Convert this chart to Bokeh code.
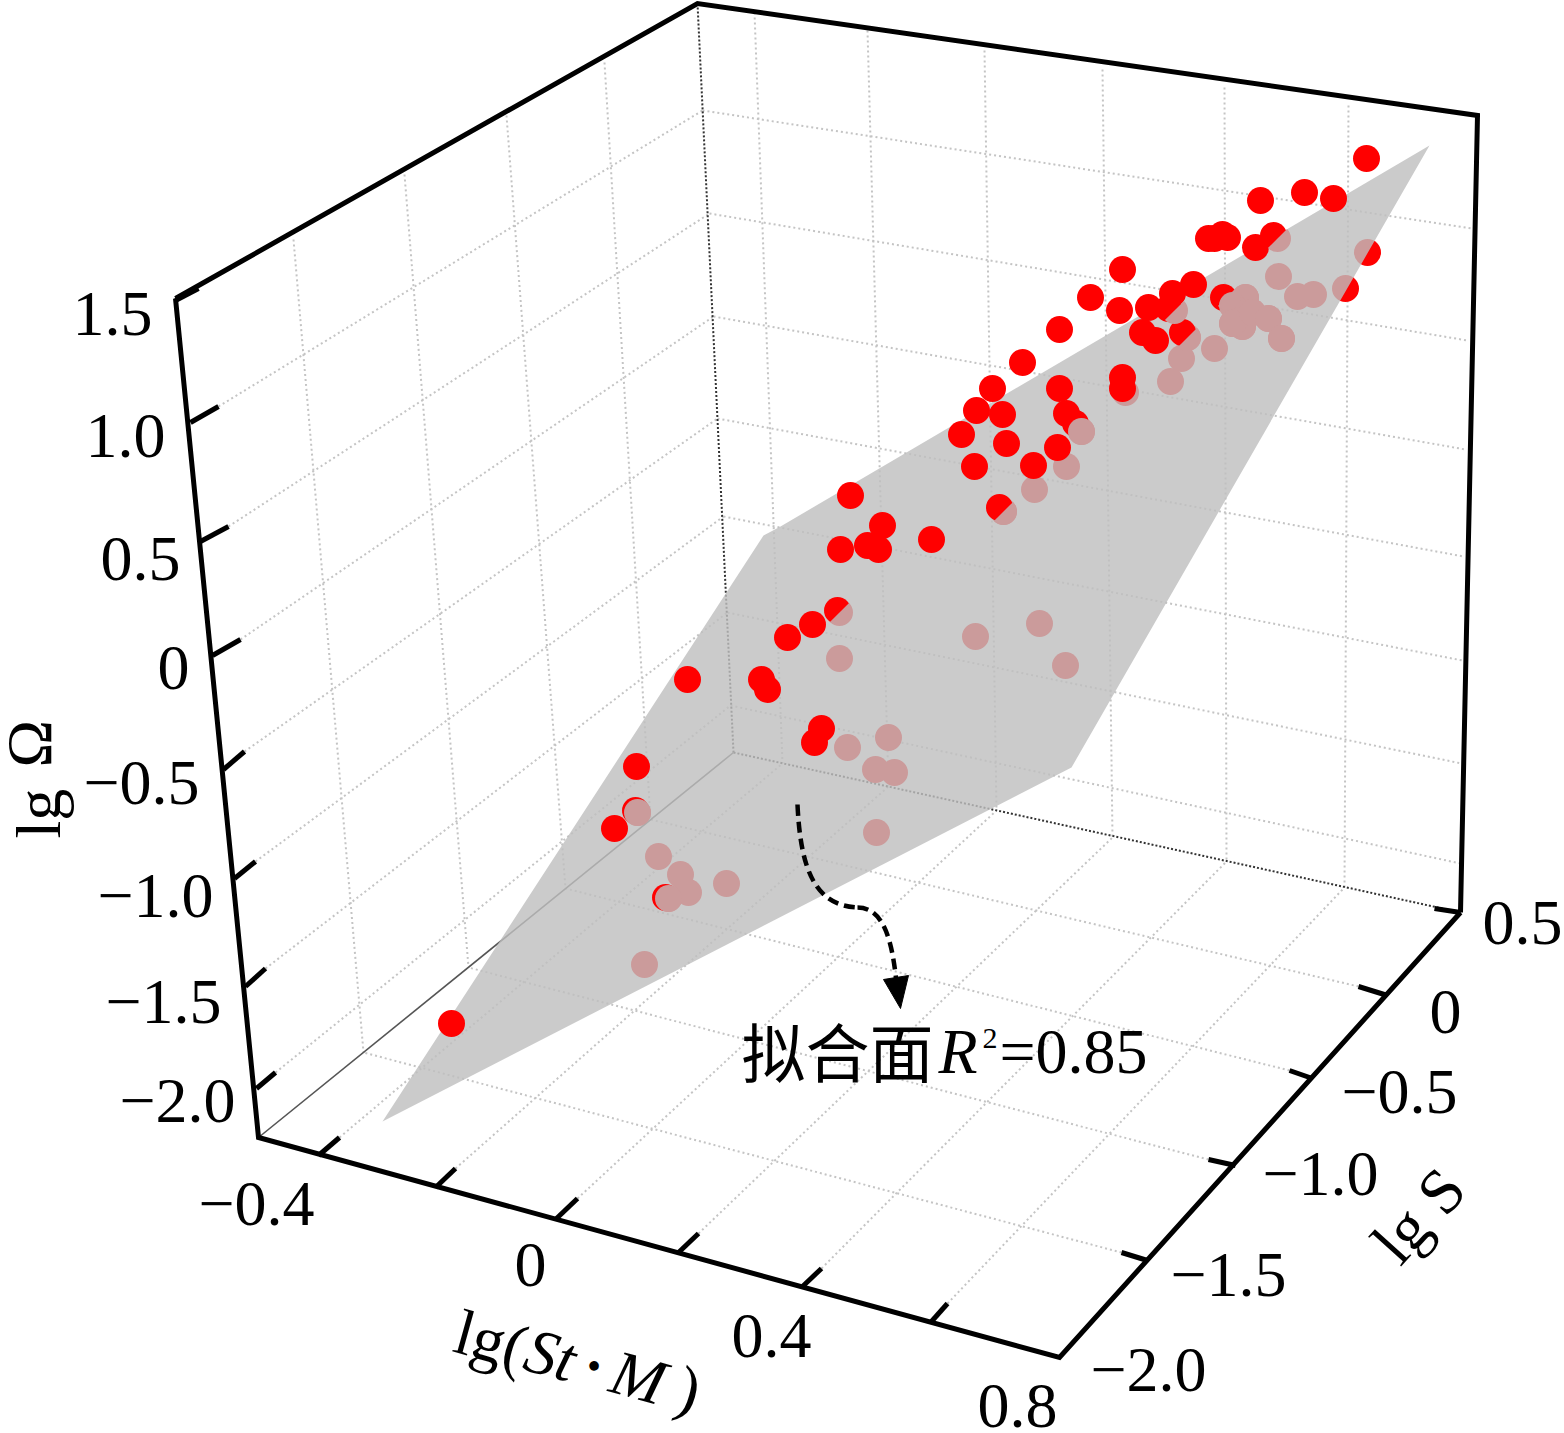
import math
from bokeh.plotting import figure
from bokeh.models import Range1d
from bokeh.core.properties import value
from bokeh.embed import file_html
from bokeh.resources import INLINE

z_labels = ["1.5", "1.0", "0.5", "0", "\u22120.5", "\u22121.0", "\u22121.5", "\u22122.0"]
z_label_right = [152, 165, 180, 189, 199, 213, 221, 235]
z_label_base = [337, 459, 582, 691, 806, 919, 1025, 1124]
x_labels = ["\u22120.4", "0", "0.4", "0.8"]
x_label_right = [314, 546, 811, 1057]
x_label_base = [1227, 1288, 1359, 1429]
s_labels = ["0.5", "0", "\u22120.5", "\u22121.0", "\u22121.5", "\u22122.0"]
s_label_right = [1562, 1461, 1457, 1378, 1286, 1206]
s_label_base = [946, 1035, 1115, 1197, 1298, 1393]

# box corners
corner_x = dict(A=258, B=1059, C=1460, D=733, At=175, Dt=697, Ct=1477)
corner_y = dict(A=1137, B=1357, C=912, D=752, At=298, Dt=3, Ct=115)

# vertical-axis ticks (base on the front edge, end into the wall)
zt_x0 = [175, 190, 200, 212, 223, 234, 245, 256]
zt_y0 = [300, 422, 541, 655, 769, 878, 986, 1088]
zt_x1 = [198, 218, 228, 240, 244, 255, 265, 275]
zt_y1 = [288, 406, 526, 639, 751, 861, 968, 1072]
# same levels on the back edge and on the right edge
zb_x = [697, 702, 709, 713, 717, 723, 727, 730]
zb_y = [3, 110, 213, 316, 418, 516, 612, 705]
zr_x = [1477, 1471, 1467, 1465, 1463, 1462, 1461, 1460]
zr_y = [115, 228, 340, 449, 556, 660, 763, 863]

# front-axis ticks
xt_x0 = [318, 435, 556, 678, 802, 931]
xt_y0 = [1155, 1187, 1218, 1252, 1286, 1321]
xt_x1 = [339, 455, 577, 698, 821, 947]
xt_y1 = [1137, 1168, 1198, 1233, 1268, 1303]
# same ticks along the back floor edge and the top edge
xf_x = [782, 888, 996, 1112, 1226, 1344]
xf_y = [763, 786, 810, 837, 861, 887]
xu_x = [754, 867, 984, 1102, 1224, 1348]
xu_y = [12, 30, 50, 69, 87, 105]

# side-axis ticks
st_x0 = [1147, 1235, 1312, 1387]
st_y0 = [1260, 1165, 1078, 995]
st_x1 = [1121, 1208, 1289, 1358]
st_y1 = [1252, 1159, 1070, 986]
# same ticks on the left wall, floor edge and top edge
sf_x = [363, 468, 565, 650]
sf_y = [1052, 967, 888, 819]
su_x = [293, 404, 506, 604]
su_y = [239, 174, 115, 62]

# fitted surface
surface_x = [382, 1071, 1429, 780, 763]
surface_y = [1121, 767, 145, 526, 535]

# points in front of the surface
red_x = [1366, 1304, 1333, 1260, 1273, 1208, 1214, 1222, 1227, 1255, 1122, 1090, 1119, 1148, 1172,
         1193, 1223, 1059, 1142, 1155, 1182, 1022, 1059, 992, 1122, 1122, 976, 1002, 1066, 1075,
         961, 1006, 1057, 974, 1033, 999, 850, 882, 840, 867, 878, 931, 837, 812, 787, 687, 761,
         767, 821, 814, 636, 614, 635, 665, 451, 1168]
red_y = [158, 192, 198, 200, 235, 238, 238, 234, 237, 247, 269, 297, 310, 307, 293,
         284, 297, 329, 332, 340, 332, 362, 388, 388, 377, 388, 410, 414, 413, 423,
         434, 443, 447, 466, 465, 507, 495, 525, 549, 545, 549, 539, 610, 624, 637, 679, 679,
         689, 728, 742, 766, 828, 810, 897, 1023, 308]
# points behind the surface, seen through it
under_x = [1278, 1297, 1313, 1345, 1367, 1214, 1181, 1170, 975, 1039, 1065, 839, 847, 888, 875,
           894, 876, 658, 680, 688, 726, 644, 1066, 1034, 1125, 1187, 1003]
under_y = [276, 296, 294, 288, 252, 348, 358, 381, 636, 623, 665, 658, 747, 737, 769,
           772, 832, 856, 874, 892, 883, 964, 466, 489, 392, 337, 511]
# behind-surface points that the picture shows over a red point
over_x = [1081, 637, 668, 1245, 1232, 1242, 1232, 1252, 1268, 1281]
over_y = [431, 812, 898, 297, 305, 326, 323, 312, 318, 338]
# points pierced by the surface: lower-right half shows behind it
cut_x = [1277, 1187, 1003, 839, 1174, 1227]
cut_y = [238, 337, 511, 612, 310, 296]

# annotation arrow (two curve pieces and a head)
arrow_x0 = [797, 857]
arrow_y0 = [804, 907]
arrow_x1 = [857, 896]
arrow_y1 = [907, 982]
arrow_c0x = [800, 885]
arrow_c0y = [870, 907]
arrow_c1x = [815, 892]
arrow_c1y = [905, 945]
head_x = [900, 883, 908]
head_y = [1008, 979, 975]

SERIF = value("Liberation Serif")
FS = 64
PINK = "#cb9b9b"
BASE = 0.36  # distance the svg text baseline sits below the anchor, in em

p = figure(width=1564, height=1433, output_backend="svg", toolbar_location=None,
           x_range=Range1d(0, 1564), y_range=Range1d(1433, 0),
           min_border=0, background_fill_color="white", border_fill_color="white")
p.axis.visible = False
p.grid.visible = False
p.outline_line_color = None

GRID = dict(line_color="#c4c4c4", line_width=2, line_dash="2 3")

# wall and floor grids
p.segment(zb_x[1:], zb_y[1:], zr_x[1:], zr_y[1:], **GRID)
p.segment(xu_x, xu_y, xf_x, xf_y, **GRID)
p.segment(zt_x1[1:], zt_y1[1:], zb_x[1:], zb_y[1:], **GRID)
p.segment(su_x, su_y, sf_x, sf_y, **GRID)
p.segment(xt_x1, xt_y1, xf_x, xf_y, **GRID)
p.segment(st_x1, st_y1, sf_x, sf_y, **GRID)

# thin inner edges
c = corner_x
d = corner_y
p.line([c["Dt"], c["D"]], [d["Dt"], d["D"]], line_color="#333333", line_width=2, line_dash="2 2")
p.line([c["D"], c["C"]], [d["D"], d["C"]], line_color="#333333", line_width=2, line_dash="2 2")
p.line([c["A"], c["D"]], [d["A"], d["D"]], line_color="#555555", line_width=1.6)

# points behind, surface, points in front
p.scatter(under_x + over_x, under_y + over_y, size=27, color="#ff0000", line_color=None)
p.patch(surface_x, surface_y, fill_color="#bfbfbf", fill_alpha=0.81, line_color=None)
p.scatter(red_x, red_y, size=27, color="#ff0000", line_color=None)
p.scatter(over_x, over_y, size=27, color=PINK, line_color=None)
p.wedge(cut_x, cut_y, radius=13.5, radius_units="screen",
        start_angle=math.radians(-135), end_angle=math.radians(45),
        fill_color=PINK, line_color=None)

# heavy box edges
p.line([c["At"], c["A"], c["B"], c["C"]], [d["At"], d["A"], d["B"], d["C"]],
       line_color="black", line_width=5, line_join="miter")
p.line([c["At"], c["Dt"], c["Ct"], c["C"]], [d["At"], d["Dt"], d["Ct"], d["C"]],
       line_color="black", line_width=5, line_join="miter")

# ticks
TICK = dict(line_color="black", line_width=5)
p.segment(zt_x0, zt_y0, zt_x1, zt_y1, **TICK)
p.segment(xt_x0, xt_y0, xt_x1, xt_y1, **TICK)
p.segment(st_x0, st_y0, st_x1, st_y1, **TICK)
p.segment([c["C"]], [d["C"]], [1434], [908], **TICK)

# tick labels
TXT = dict(text_font=SERIF, text_font_size=f"{FS}px", text_color="black",
           text_align="right", text_baseline="alphabetic", y_offset=-BASE * FS)
p.text(z_label_right, z_label_base, text=z_labels, **TXT)
p.text(x_label_right, x_label_base, text=x_labels, **TXT)
p.text(s_label_right, s_label_base, text=s_labels, **TXT)


def label(x, y, s, angle_deg=0.0, italic=False, size=FS, font=SERIF):
    a = math.radians(angle_deg)
    p.text([x], [y], text=[s], angle=a, text_font=font,
           text_font_size=f"{size}px", text_font_style="italic" if italic else "normal",
           text_color="black", text_align="left", text_baseline="alphabetic",
           x_offset=-BASE * size * math.sin(a), y_offset=-BASE * size * math.cos(a))


# axis titles
label(61, 838, "lg", 90)
label(52, 767, "\u03a9", 90)
label(450, 1352, "lg(", -15.5)
label(520, 1370, "St", -15.5, italic=True)
label(583, 1377, "\u2022", -15.5, size=40)
label(606, 1392, "M", -15.5, italic=True)
label(672, 1408, ")", -15.5)
label(1401, 1268, "lg", 48)
label(1446, 1219, "S", 48)

# annotation
p.bezier(arrow_x0, arrow_y0, arrow_x1, arrow_y1, arrow_c0x, arrow_c0y, arrow_c1x, arrow_c1y,
         line_color="black", line_width=4.5, line_dash="11 6")
p.patch(head_x, head_y, fill_color="black", line_color="black", line_width=1)
label(741, 1072, "\u62df\u5408\u9762", size=64, font=value("Noto Sans CJK SC"))
label(938, 1074, "R", italic=True)
label(982, 1049, "2", size=30)
label(999, 1074, "=0.85")

open("out.html", "w").write(file_html(p, INLINE))
